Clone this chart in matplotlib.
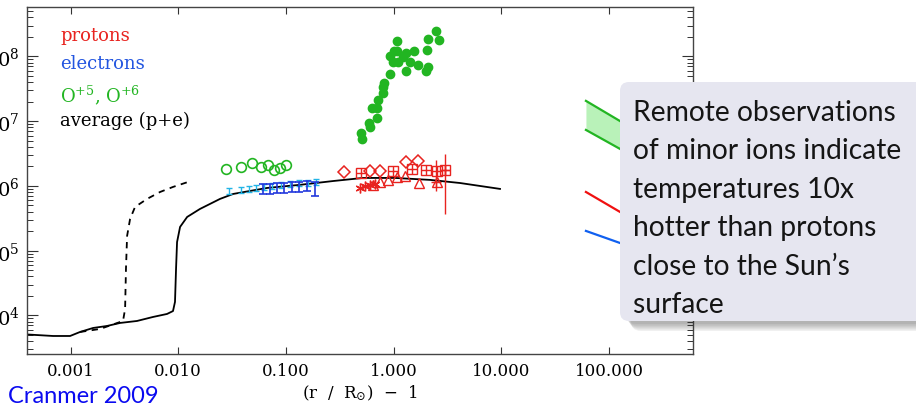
import numpy as np
import matplotlib.pyplot as plt
from matplotlib.patches import FancyBboxPatch
from matplotlib.ticker import LogLocator, NullLocator, NullFormatter
from matplotlib.transforms import IdentityTransform

plt.rcParams['font.family'] = 'DejaVu Serif'
plt.rcParams['mathtext.fontset'] = 'dejavuserif'

# average (p+e) model, solid
r_avg = [3.94e-4, 6.88e-4, 9.9e-4, 1.225e-3, 1.62e-3, 2.18e-3, 2.88e-3, 4.14e-3, 5.83e-3,
         7.87e-3, 8.94e-3, 9.33e-3, 9.54e-3, 9.75e-3, 1.04e-2, 1.21e-2, 1.59e-2, 2.44e-2,
         3.23e-2, 4.64e-2, 6.67e-2, 0.135, 0.273, 0.520, 1.03, 2.18, 4.14, 9.73]
T_avg = [5.09e3, 4.82e3, 4.82e3, 5.56e3, 6.41e3, 6.88e3, 7.66e3, 8.22e3, 9.48e3,
         1.055e4, 1.17e4, 1.62e4, 5.22e4, 1.36e5, 2.33e5, 3.32e5, 4.41e5, 6.30e5,
         7.52e5, 8.37e5, 9.31e5, 1.04e6, 1.19e6, 1.33e6, 1.33e6, 1.24e6, 1.11e6, 9.0e5]

# alternative model, dashed
r_dash = [1.225e-3, 1.88e-3, 3.07e-3, 3.21e-3, 3.27e-3, 3.35e-3, 3.57e-3, 3.97e-3,
          5.13e-3, 6.78e-3, 8.95e-3, 1.23e-2]
T_dash = [5.56e3, 6.19e3, 8.22e3, 1.26e4, 5.22e4, 1.69e5, 3.09e5, 4.74e5,
          6.30e5, 8.07e5, 9.66e5, 1.15e6]

# O+5, O+6 (open: on-disk, filled: off-limb)
r_ox_open = [0.0278, 0.0383, 0.0484, 0.0587, 0.0683, 0.0774, 0.0881, 0.100]
T_ox_open = [1.83e6, 1.96e6, 2.27e6, 1.96e6, 2.11e6, 1.77e6, 1.90e6, 2.11e6]
r_ox = [0.498, 0.508, 0.591, 0.604, 0.702, 0.631, 0.702, 0.717, 0.797, 0.797, 0.815,
        0.927, 0.987, 1.009, 1.074, 1.098, 1.22, 1.30, 1.30, 1.42, 1.55, 1.69, 2.0,
        2.09, 2.04, 2.09, 2.48, 2.64, 1.07, 0.93]
T_ox = [6.6e6, 5.3e6, 9.4e6, 8.1e6, 1.12e7, 1.6e7, 1.6e7, 2.1e7, 2.7e7, 3.4e7, 3.9e7,
        5.4e7, 8.2e7, 1.2e8, 1.73e8, 8.2e7, 9.8e7, 1.13e8, 6.0e7, 8.2e7, 1.22e8, 7.4e7,
        6.0e7, 6.9e7, 1.26e8, 1.86e8, 2.48e8, 1.8e8, 1.2e8, 1.0e8]

# electrons
r_el_c = [0.0296, 0.0383, 0.0454, 0.0527, 0.0626, 0.0743, 0.0901, 0.109, 0.132, 0.160, 0.190]
T_el_c = [8.37e5, 8.67e5, 9.0e5, 9.31e5, 9.65e5, 1.0e6, 1.036e6, 1.074e6, 1.112e6, 1.112e6, 1.153e6]
T_el_c_lo = [7.5e5, 7.8e5, 8.1e5, 8.4e5, 8.7e5, 9.0e5, 9.3e5, 9.7e5, 1.0e6, 1.0e6, 1.04e6]
T_el_c_hi = [9.3e5, 9.6e5, 1.0e6, 1.03e6, 1.07e6, 1.11e6, 1.15e6, 1.19e6, 1.23e6, 1.23e6, 1.28e6]
r_el = [0.0612, 0.0711, 0.0826, 0.0959, 0.1138, 0.132, 0.157, 0.186]
T_el = [9.0e5, 9.0e5, 9.3e5, 9.3e5, 9.7e5, 9.7e5, 1.0e6, 9.0e5]
T_el_lo = [7.5e5, 7.5e5, 7.8e5, 7.8e5, 8.1e5, 8.1e5, 8.4e5, 7.0e5]
T_el_hi = [1.08e6, 1.08e6, 1.11e6, 1.11e6, 1.16e6, 1.16e6, 1.2e6, 1.16e6]

# protons
r_p_dia = [0.346, 0.604, 0.748, 1.30, 1.69]
T_p_dia = [1.64e6, 1.71e6, 1.71e6, 2.35e6, 2.43e6]
r_p_box = [0.498, 0.986, 1.48, 2.0, 2.53, 3.0]
T_p_box = [1.59e6, 1.71e6, 1.83e6, 1.77e6, 1.71e6, 1.77e6]
r_p_tri = [0.644, 0.748, 0.887, 1.08, 1.28, 1.72, 2.53]
T_p_tri = [1.04e6, 1.15e6, 1.24e6, 1.38e6, 1.43e6, 1.11e6, 1.15e6]
r_p_ast = [0.488, 0.542, 0.604, 0.671]
T_p_ast = [9.3e5, 1.0e6, 1.04e6, 1.07e6]
r_p_err = [2.5, 3.0]
T_p_err = [1.15e6, 1.77e6]
T_p_err_lo = [8.4e5, 3.7e5]
T_p_err_hi = [2.52e6, 3.12e6]

# legend fragments partly hidden by the callout
r_frag = [61.1, 140.0]
T_frag_g_hi = [2.06e7, 9.1e6]
T_frag_g_lo = [7.33e6, 3.4e6]
T_frag_r = [8.07e5, 3.6e5]
T_frag_b = [2.02e5, 1.24e5]

xticks = [1e-3, 1e-2, 1e-1, 1, 10, 100]
xlabels = ['0.001', '0.010', '0.100', '1.000', '10.000', '100.000']

callout = ['Remote observations', 'of minor ions indicate', 'temperatures 10x',
           'hotter than protons', "close to the Sun\u2019s", 'surface']

red = '#e8231f'
green = '#22b522'
cyan = '#22b4e6'
blue = '#2238dd'

fig = plt.figure(figsize=(9.16, 4.06), dpi=100)
ax = fig.add_axes([27 / 916, 1 - 355 / 406, 666 / 916, 347 / 406])
ax.set_xscale('log')
ax.set_yscale('log')
ax.set_xlim(3.94e-4, 603)
ax.set_ylim(2540, 5.8e8)

ax.plot(r_avg, T_avg, color='black', lw=1.3)
ax.plot(r_dash, T_dash, color='black', lw=1.3, dashes=(3.5, 3))

ax.plot(r_ox_open, T_ox_open, 'o', mfc='none', mec=green, mew=1.2, ms=7)
ax.plot(r_ox, T_ox, 'o', color=green, ms=6)

T_el_c = np.array(T_el_c)
ax.errorbar(r_el_c, T_el_c, yerr=[T_el_c - T_el_c_lo, np.array(T_el_c_hi) - T_el_c],
            fmt='none', ecolor=cyan, elinewidth=1.0, capsize=2.5, capthick=1.0)
T_el = np.array(T_el)
ax.errorbar(r_el, T_el, yerr=[T_el - T_el_lo, np.array(T_el_hi) - T_el],
            fmt='none', ecolor=blue, elinewidth=1.2, capsize=3, capthick=1.2)

ax.plot(r_p_dia, T_p_dia, 'D', mfc='none', mec=red, mew=1.1, ms=6.5)
ax.plot(r_p_box, T_p_box, 's', mfc='none', mec=red, mew=1.0, ms=7.5)
ax.plot(r_p_box, T_p_box, '+', color=red, mew=1.0, ms=7.5)
ax.plot(r_p_tri, T_p_tri, '^', mfc='none', mec=red, mew=1.0, ms=7)
ax.plot(r_p_ast, T_p_ast, marker=(6, 2, 0), ls='none', color=red, mew=1.0, ms=7)
T_p_err = np.array(T_p_err)
ax.errorbar(r_p_err, T_p_err, yerr=[T_p_err - T_p_err_lo, np.array(T_p_err_hi) - T_p_err],
            fmt='+', color=red, ms=7, elinewidth=1.0, capsize=0)

ax.fill_between(r_frag, T_frag_g_lo, T_frag_g_hi, color='#b9f2b9', lw=0)
ax.plot(r_frag, T_frag_g_hi, color=green, lw=1.6)
ax.plot(r_frag, T_frag_g_lo, color=green, lw=1.6)
ax.plot(r_frag, T_frag_r, color='#f01010', lw=1.6)
ax.plot(r_frag, T_frag_b, color='#1060f0', lw=1.6)

ax.set_xticks(xticks, xlabels)
ax.xaxis.set_minor_locator(NullLocator())
ax.yaxis.set_major_locator(LogLocator(base=10, numticks=20))
ax.yaxis.set_minor_locator(LogLocator(base=10, subs=np.arange(2, 10), numticks=100))
ax.yaxis.set_minor_formatter(NullFormatter())
ax.tick_params(axis='x', which='major', direction='in', top=True, length=5, width=0.8,
               labelsize=12, pad=6, color='#333333')
ax.tick_params(axis='y', which='major', direction='in', right=True, length=8, width=0.8,
               labelsize=14, pad=5, color='#333333')
ax.tick_params(axis='y', which='minor', direction='in', right=True, length=4, width=0.7,
               color='#333333')
for s in ax.spines.values():
    s.set_color('#444444')
    s.set_linewidth(1.0)

ax.set_xlabel(r'(r  /  R$_{\odot}$)  $-$  1', fontsize=12, labelpad=2)

# in-plot labels
fig.text(60 / 916, 1 - 36 / 406, 'protons', color=red, fontsize=13, va='center')
fig.text(60 / 916, 1 - 64 / 406, 'electrons', color='#2255e0', fontsize=13, va='center')
fig.text(60 / 916, 1 - 95 / 406, r'O$^{+5}$, O$^{+6}$', color=green, fontsize=13, va='center')
fig.text(60 / 916, 1 - 121 / 406, 'average (p+e)', color='black', fontsize=13, va='center')

fig.text(8 / 916, 1 - 403 / 406, 'Cranmer 2009', color='#0a0af0', fontsize=17,
         family='Lato', va='baseline')

# callout box with soft shadow
for k in range(6):
    sh = FancyBboxPatch((626 + k, 84 - 3 - k * 1.4), 310, 239,
                        boxstyle='round,pad=0,rounding_size=10',
                        transform=IdentityTransform(), fc='#303030', ec='none',
                        alpha=0.07, zorder=10)
    fig.patches.append(sh)
box = FancyBboxPatch((620, 84), 310, 239, boxstyle='round,pad=0,rounding_size=9',
                     transform=IdentityTransform(), fc='#e6e6f0', ec='none', zorder=11)
fig.patches.append(box)
for i, line in enumerate(callout):
    fig.text(633 / 916, 1 - (121 + 38.4 * i) / 406, line, family='Lato', fontsize=20.3,
             color='#151515', va='baseline', zorder=12)

fig.savefig('out.png', dpi=100)
